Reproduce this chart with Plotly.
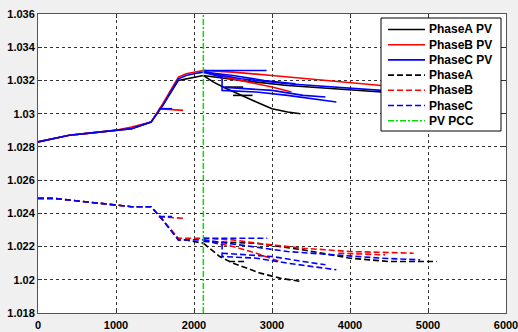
import plotly.graph_objects as go

# ---------------- data ----------------
x_ticks = [0, 1000, 2000, 3000, 4000, 5000, 6000]
y_ticks = [1.018, 1.020, 1.022, 1.024, 1.026, 1.028, 1.030, 1.032, 1.034, 1.036]
y_tick_text = ["1.018", "1.02", "1.022", "1.024", "1.026", "1.028", "1.03", "1.032", "1.034", "1.036"]

pcc_x = 2120

# common trunk distance (m)
trunk_x = [0, 200, 400, 600, 800, 1000, 1200, 1450, 1600, 1800, 1900, 2000, 2120]

# ---- PV case (solid) ----
pvA_trunk_y = [1.0283, 1.0285, 1.0287, 1.0288, 1.0289, 1.0290, 1.0291, 1.0295, 1.0305, 1.0320, 1.0321, 1.0322, 1.0323]
pvB_trunk_y = [1.0283, 1.0285, 1.0287, 1.0288, 1.0289, 1.0290, 1.0292, 1.0295, 1.0306, 1.0322, 1.0324, 1.0325, 1.0326]
pvC_trunk_y = [1.0283, 1.0285, 1.0287, 1.0288, 1.0289, 1.0290, 1.0291, 1.0295, 1.0305, 1.0321, 1.0323, 1.0324, 1.0325]

pvA_branches = [
    ([2120, 2250, 2400, 2600, 2800, 3000, 3200, 3365], [1.0323, 1.0319, 1.03155, 1.0311, 1.0307, 1.0303, 1.0301, 1.0300]),
    ([2120, 2600, 3200, 3800, 4400, 4900], [1.0323, 1.0320, 1.0317, 1.0315, 1.0313, 1.0312]),
    ([2400, 2630], [1.0316, 1.0316]),
    ([2500, 2750], [1.0311, 1.0311]),
]
pvB_branches = [
    ([2120, 2500, 3000, 3500, 4000, 4400, 4800], [1.0326, 1.0325, 1.0323, 1.0321, 1.0319, 1.0317, 1.0316]),
    ([2120, 2400, 2700, 3000, 3250], [1.0326, 1.0322, 1.0319, 1.0316, 1.0313]),
    ([1550, 1860], [1.0303, 1.0302]),
]
pvC_branches = [
    ([2120, 2500, 2930], [1.0326, 1.0326, 1.0326]),
    ([2120, 2600, 3200, 3800, 4400, 4900], [1.0325, 1.0321, 1.0318, 1.0316, 1.0314, 1.0313]),
    ([2120, 2360, 2360, 2800, 3200, 3500, 3825], [1.0325, 1.0322, 1.0314, 1.0313, 1.0311, 1.0309, 1.0307]),
    ([2360, 3000, 3400, 3685], [1.0316, 1.0314, 1.0311, 1.0310]),
    ([2120, 2500, 2900, 3300], [1.0325, 1.0323, 1.0320, 1.0318]),
    ([1550, 1720], [1.0303, 1.0303]),
]

# ---- no-PV case (dashed) ----
A_trunk_y = [1.0249, 1.0249, 1.0248, 1.0247, 1.0246, 1.0245, 1.0244, 1.0244, 1.0236, 1.0224, 1.0224, 1.0223, 1.0222]
B_trunk_y = [1.0249, 1.0249, 1.0248, 1.0247, 1.0246, 1.0245, 1.0244, 1.0244, 1.0236, 1.0225, 1.0225, 1.0225, 1.0225]
C_trunk_y = [1.0249, 1.0249, 1.0248, 1.0247, 1.0246, 1.0245, 1.0244, 1.0244, 1.0236, 1.0224, 1.0224, 1.0224, 1.0224]

A_branches = [
    ([2120, 2200, 2330, 2500, 2850, 3100, 3365], [1.0222, 1.0219, 1.0214, 1.0210, 1.0204, 1.0201, 1.0199]),
    ([2120, 2800, 3400, 4000, 4500, 5110], [1.0223, 1.0222, 1.0218, 1.0213, 1.0211, 1.0211]),
    ([2450, 2650], [1.0211, 1.0211]),
]
B_branches = [
    ([2120, 2500, 2800, 3400, 4000, 4815], [1.0225, 1.0224, 1.0222, 1.0219, 1.0217, 1.0216]),
    ([2120, 2500, 2800, 3100], [1.0224, 1.0220, 1.0216, 1.0211]),
    ([3850, 4450], [1.0216, 1.0215]),
    ([1550, 1860], [1.0238, 1.0237]),
]
C_branches = [
    ([2120, 2500, 2940], [1.0225, 1.0225, 1.0225]),
    ([2120, 2600, 3200, 3800, 4400, 4900], [1.0224, 1.0221, 1.0217, 1.0215, 1.0213, 1.0212]),
    ([2120, 2360, 2360, 2800, 3200, 3500, 3825], [1.0224, 1.0221, 1.0214, 1.0213, 1.0210, 1.0208, 1.0206]),
    ([2360, 3000, 3400, 3685], [1.0216, 1.0214, 1.0211, 1.0209]),
    ([1550, 1720], [1.0238, 1.0238]),
]

legend_names = ["PhaseA PV", "PhaseB PV", "PhaseC PV", "PhaseA", "PhaseB", "PhaseC", "PV PCC"]
legend_colors = ["#000000", "#ff0000", "#0000ff", "#000000", "#ff0000", "#0000ff", "#00dd00"]
DASH = "6px,3px"
DASHDOT = "6px,2px,2px,2px"
legend_dashes = ["solid", "solid", "solid", DASH, DASH, DASH, DASHDOT]

# ---------------- figure ----------------
fig = go.Figure()

def add_phase(name, color, dash, trunk_y, branches):
    fig.add_trace(go.Scatter(x=trunk_x, y=trunk_y, mode="lines", name=name,
                             line=dict(color=color, width=1.6, dash=dash)))
    for bx, by in branches:
        fig.add_trace(go.Scatter(x=bx, y=by, mode="lines", name=name,
                                 line=dict(color=color, width=1.6, dash=dash)))

add_phase(legend_names[0], legend_colors[0], legend_dashes[0], pvA_trunk_y, pvA_branches)
add_phase(legend_names[1], legend_colors[1], legend_dashes[1], pvB_trunk_y, pvB_branches)
add_phase(legend_names[2], legend_colors[2], legend_dashes[2], pvC_trunk_y, pvC_branches)
add_phase(legend_names[3], legend_colors[3], legend_dashes[3], A_trunk_y, A_branches)
add_phase(legend_names[4], legend_colors[4], legend_dashes[4], B_trunk_y, B_branches)
add_phase(legend_names[5], legend_colors[5], legend_dashes[5], C_trunk_y, C_branches)

fig.add_trace(go.Scatter(x=[pcc_x, pcc_x], y=[y_ticks[0], y_ticks[-1]], mode="lines",
                         name=legend_names[6],
                         line=dict(color=legend_colors[6], width=1.5, dash=DASHDOT)))

axis_common = dict(
    showgrid=True, gridcolor="#333333", gridwidth=1, griddash="dot",
    showline=True, linecolor="#555555", linewidth=1, mirror="ticks",
    ticks="inside", ticklen=4, tickcolor="#333333",
    zeroline=False, automargin=False,
    tickfont=dict(family="Liberation Sans", size=11, color="#000000", weight="bold"),
)

fig.update_xaxes(range=[0, 6000], tickvals=x_ticks, ticklabelstandoff=2,
                 ticklabeloverflow="allow", **axis_common)
fig.update_yaxes(range=[1.018, 1.036], tickvals=y_ticks, ticktext=y_tick_text, **axis_common)

# ---- MATLAB-style legend box (paper coordinates) ----
W, H = 518, 332
L, R, T, B = 38, 12, 14, 19
pw, ph = W - L - R, H - T - B

def px_x(p):
    return (p - L) / pw

def px_y(p):
    return 1 - (p - T) / ph

shapes = [dict(type="rect", xref="paper", yref="paper",
               x0=px_x(381), x1=px_x(501), y0=px_y(131), y1=px_y(18),
               fillcolor="#ffffff", line=dict(color="#000000", width=1), layer="above")]
annotations = []
row0, row_step = 29.5, 15.2
for i, (nm, col, ds) in enumerate(zip(legend_names, legend_colors, legend_dashes)):
    yy = px_y(row0 + i * row_step)
    shapes.append(dict(type="line", xref="paper", yref="paper",
                       x0=px_x(388), x1=px_x(425), y0=yy, y1=yy,
                       line=dict(color=col, width=1.6, dash=ds), layer="above"))
    annotations.append(dict(xref="paper", yref="paper", x=px_x(427), y=yy,
                            xanchor="left", yanchor="middle", text=nm, showarrow=False,
                            font=dict(family="Liberation Sans", size=12, color="#000000", weight="bold")))

fig.update_layout(
    width=W, height=H,
    margin=dict(l=L, r=R, t=T, b=B),
    paper_bgcolor="#f0f0f0", plot_bgcolor="#ffffff",
    showlegend=False,
    shapes=shapes, annotations=annotations,
)

fig.write_html("out.html")
